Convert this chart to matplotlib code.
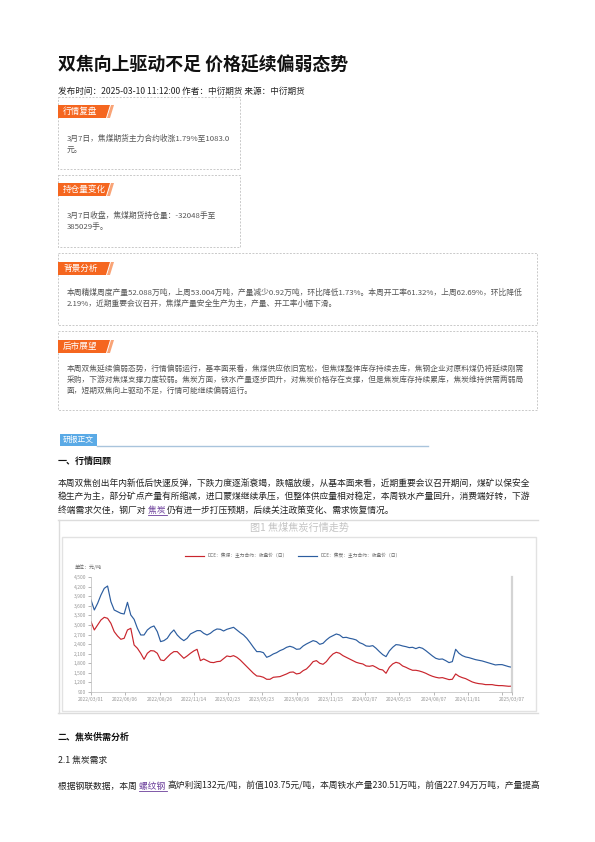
import matplotlib
matplotlib.use("Agg")
import matplotlib.pyplot as plt
import numpy as np
from matplotlib.patches import Rectangle, Polygon

plt.rcParams['font.family'] = ['Noto Sans CJK SC', 'DejaVu Sans']

# chart data (roughly weekly samples)
coal = [3102, 2842, 2998, 3154, 3238, 3207, 3050, 2790, 2654, 2550, 2581, 2842, 2894, 2372, 2268,
        2112, 1924, 2112, 2195, 2185, 2112, 1903, 1882, 1986, 2091, 2164, 2164, 2059, 1955, 2028,
        2112, 2185, 2237, 1882, 1934, 1882, 1830, 1820, 1851, 1861, 1945, 2028, 2007,
        2038, 1986, 1903, 1799, 1694, 1590, 1486, 1402, 1392, 1361, 1298, 1298, 1361, 1371, 1382,
        1423, 1465, 1517, 1527, 1465, 1486, 1569, 1621, 1726, 1851, 1882, 1799, 1767, 1851, 1986,
        2091, 2143, 2112, 2038, 1986, 1934, 1882, 1830, 1799, 1778, 1715, 1705,
        1726, 1673, 1611, 1590, 1486, 1673, 1778, 1830, 1799, 1715, 1673, 1621, 1580, 1580, 1559,
        1527, 1486, 1434, 1392, 1361, 1340, 1350, 1319, 1288, 1298, 1465, 1392, 1350, 1319, 1267,
        1215, 1183, 1162, 1152, 1131, 1131, 1131, 1110, 1100, 1100, 1090, 1079, 1083]
coke = [3780, 3467, 3676, 3937, 4145, 4218, 3728, 3467, 3415, 3363, 3342, 3707, 3311, 3175, 2894,
        2685, 2685, 2842, 2925, 2967, 2790, 2477, 2508, 2581, 2737, 2842, 2685, 2581, 2508, 2581,
        2716, 2769, 2821, 2821, 2737, 2685, 2737, 2821, 2873, 2863, 2810, 2863, 2894,
        2925, 2842, 2758, 2685, 2581, 2445, 2299, 2164, 2164, 2132, 1986, 2028, 2091, 2132, 2195,
        2237, 2299, 2331, 2299, 2237, 2247, 2341, 2404, 2456, 2508, 2477, 2393, 2425, 2529, 2612,
        2664, 2716, 2685, 2602, 2612, 2581, 2560, 2529, 2445, 2404, 2341, 2331,
        2351, 2268, 2164, 2070, 2007, 2185, 2299, 2383, 2372, 2341, 2320, 2289, 2299, 2258, 2299,
        2268, 2195, 2112, 2028, 1955, 1924, 1934, 1882, 1820, 1851, 2237, 2112, 2039, 1997, 1976,
        1945, 1913, 1892, 1872, 1840, 1809, 1778, 1747, 1757, 1757, 1726, 1694, 1673]
date_labels = ["2022/03/01", "2022/06/06", "2022/08/26", "2022/11/14", "2023/02/23", "2023/05/23",
               "2023/08/16", "2023/11/15", "2024/02/07", "2024/05/15", "2024/08/07", "2024/11/01",
               "", "2025/03/07"]
coal_name = "DCE：焦煤：主力合约：收盘价（日）"
coke_name = "DCE：焦炭：主力合约：收盘价（日）"

# page text
title = "双焦向上驱动不足 价格延续偏弱态势"
meta = "发布时间：2025-03-10 11:12:00 作者：中衍期货 来源：中衍期货"
box1 = ["3月7日，焦煤期货主力合约收涨1.79%至1083.0", "元。"]
box2 = ["3月7日收盘，焦煤期货持仓量：-32048手至", "385029手。"]
box3 = ["本周精煤周度产量52.088万吨，上周53.004万吨，产量减少0.92万吨，环比降低1.73%。本周开工率61.32%，上周62.69%，环比降低",
        "2.19%，近期重要会议召开，焦煤产量安全生产为主，产量、开工率小幅下滑。"]
box4 = ["本周双焦延续偏弱态势，行情偏弱运行，基本面来看，焦煤供应依旧宽松，但焦煤整体库存持续去库，焦钢企业对原料煤仍将延续刚需",
        "采购，下游对焦煤支撑力度较弱。焦炭方面，铁水产量逐步回升，对焦炭价格存在支撑，但是焦炭库存持续累库，焦炭维持供需两弱局",
        "面，短期双焦向上驱动不足，行情可能继续偏弱运行。"]
para1 = ["本周双焦创出年内新低后快速反弹，下跌力度逐渐衰竭，跌幅放缓，从基本面来看，近期重要会议召开期间，煤矿以保安全",
         "稳生产为主，部分矿点产量有所缩减，进口蒙煤继续承压，但整体供应量相对稳定，本周铁水产量回升，消费端好转，下游"]

W, H = 595, 842
fig = plt.figure(figsize=(W / 100, H / 100), dpi=100)
fig.patch.set_facecolor('white')
bg = fig.add_axes([0, 0, 1, 1])
bg.set_xlim(0, W)
bg.set_ylim(H, 0)
bg.axis('off')
renderer = fig.canvas.get_renderer()

ORANGE = '#f5661f'
LINK = '#6a3d9a'


def runs(x, y, parts, size, weight='normal'):
    # place text pieces one after another, links get an underline
    for txt, col, link in parts:
        t = bg.text(x, y, txt, fontsize=size, color=col, va='center', ha='left', fontweight=weight)
        w = t.get_window_extent(renderer).width
        if link:
            bg.plot([x, x + w], [y + 5, y + 5], color=col, lw=0.6)
        x += w


def dashed_box(x0, y0, x1, y1):
    bg.add_patch(Rectangle((x0, y0), x1 - x0, y1 - y0, fill=False, ec='#c9c9c9',
                           lw=0.7, ls=(0, (2, 1.5))))


def tag(x, y, txt, w):
    bg.add_patch(Polygon([(x, y), (x + w, y), (x + w - 4, y + 13), (x, y + 13)],
                         closed=True, fc=ORANGE, ec='none'))
    bg.add_patch(Polygon([(x + w + 1, y), (x + w + 4, y), (x + w, y + 13), (x + w - 3, y + 13)],
                         closed=True, fc='#f9a477', ec='none'))
    bg.text(x + 5, y + 6.8, txt, fontsize=6.2, color='white', va='center', ha='left')


bg.text(58, 65, title, fontsize=12.9, fontweight='bold', va='center', ha='left', color='#111111')
bg.text(58, 91, meta, fontsize=6.2, va='center', ha='left', color='#222222')

# summary boxes
dashed_box(58, 97, 240, 169)
tag(58, 105, "行情复盘", 52)
for i, line in enumerate(box1):
    bg.text(67, 139 + i * 10.5, line, fontsize=5.6, color='#555555', va='center', ha='left')

dashed_box(58, 175, 240, 247)
tag(58, 183, "持仓量变化", 52)
for i, line in enumerate(box2):
    bg.text(67, 216 + i * 10.5, line, fontsize=5.6, color='#555555', va='center', ha='left')

dashed_box(58, 253, 537, 325)
tag(58, 262, "背景分析", 52)
for i, line in enumerate(box3):
    bg.text(67, 293 + i * 10.5, line, fontsize=5.6, color='#555555', va='center', ha='left')

dashed_box(58, 331, 537, 410)
tag(58, 340, "后市展望", 52)
for i, line in enumerate(box4):
    bg.text(67, 370 + i * 10.5, line, fontsize=5.55, color='#555555', va='center', ha='left')

# report body header
bg.add_patch(Rectangle((60, 434), 37, 12, fc='#5aaae6', ec='none'))
bg.text(63, 440, "研报正文", fontsize=5.6, color='white', va='center', ha='left')
bg.plot([97, 428], [446, 446], color='#a9c4dc', lw=1)

bg.text(58, 461, "一、行情回顾", fontsize=6.5, fontweight='bold', va='center', ha='left', color='#111111')
for i, line in enumerate(para1):
    bg.text(58, 483 + i * 13.5, line, fontsize=6.3, va='center', ha='left', color='#222222')
runs(58, 510, [("终端需求欠佳，钢厂对 ", '#222222', False), ("焦炭 ", LINK, True),
               ("仍有进一步打压预期，后续关注政策变化、需求恢复情况。", '#222222', False)], 6.3)

# chart frame
bg.plot([58, 538], [519.5, 519.5], color='#dcdcdc', lw=1)
bg.plot([58.5, 58.5], [519.5, 713], color='#dcdcdc', lw=1)
bg.plot([58, 538], [713, 713], color='#dcdcdc', lw=1)
bg.add_patch(Rectangle((62, 537), 474, 174, fill=False, ec='#e2e2e2', lw=1))
bg.text(299, 528, "图1 焦煤焦炭行情走势", fontsize=7.3, color='#c4c4c4', va='center', ha='center')
bg.text(75, 567, "单位：元/吨", fontsize=3.6, color='#666666', va='center', ha='left')

# price chart
ax = fig.add_axes([91 / W, 1 - 692 / H, (512 - 91) / W, (692 - 577) / H])
x = np.arange(len(coal))
ax.plot(x, coal, color='#c9252d', lw=0.85, label=coal_name)
ax.plot(x, coke, color='#2c5d9f', lw=0.85, label=coke_name)
ax.set_xlim(0, len(coal) - 1)
ax.set_ylim(900, 4500)
ax.set_yticks(np.arange(900, 4501, 300))
ax.set_yticklabels([f"{v:,}" for v in range(900, 4501, 300)])
step = (len(coal) - 1) / 12.29
ax.set_xticks([i * step for i in range(13)] + [len(coal) - 1])
ax.set_xticklabels(date_labels)
ax.tick_params(axis='both', labelsize=3.6, colors='#999999', length=2, width=0.5, pad=1.5)
ax.spines['top'].set_visible(False)
ax.spines['right'].set_color('#d4d4d4')
ax.spines['right'].set_linewidth(1.6)
ax.spines['left'].set_color('#bbbbbb')
ax.spines['bottom'].set_color('#bbbbbb')
ax.spines['left'].set_linewidth(0.5)
ax.spines['bottom'].set_linewidth(0.5)
ax.legend(loc='center', bbox_to_anchor=(293 / W, 1 - 556 / H), bbox_transform=fig.transFigure,
          ncol=2, frameon=False, fontsize=3.4, handlelength=4.0, columnspacing=2.2,
          labelcolor='#666666')

# section two
bg.text(58, 737, "二、焦炭供需分析", fontsize=6.5, fontweight='bold', va='center', ha='left', color='#111111')
bg.text(58, 760, "2.1 焦炭需求", fontsize=6.3, va='center', ha='left', color='#222222')
runs(58, 786, [("根据钢联数据，本周 ", '#222222', False), ("螺纹钢 ", LINK, True),
               ("高炉利润132元/吨，前值103.75元/吨，本周铁水产量230.51万吨，前值227.94万万吨，产量提高", '#222222', False)], 6.3)

fig.savefig("out.png", dpi=100, facecolor='white')
